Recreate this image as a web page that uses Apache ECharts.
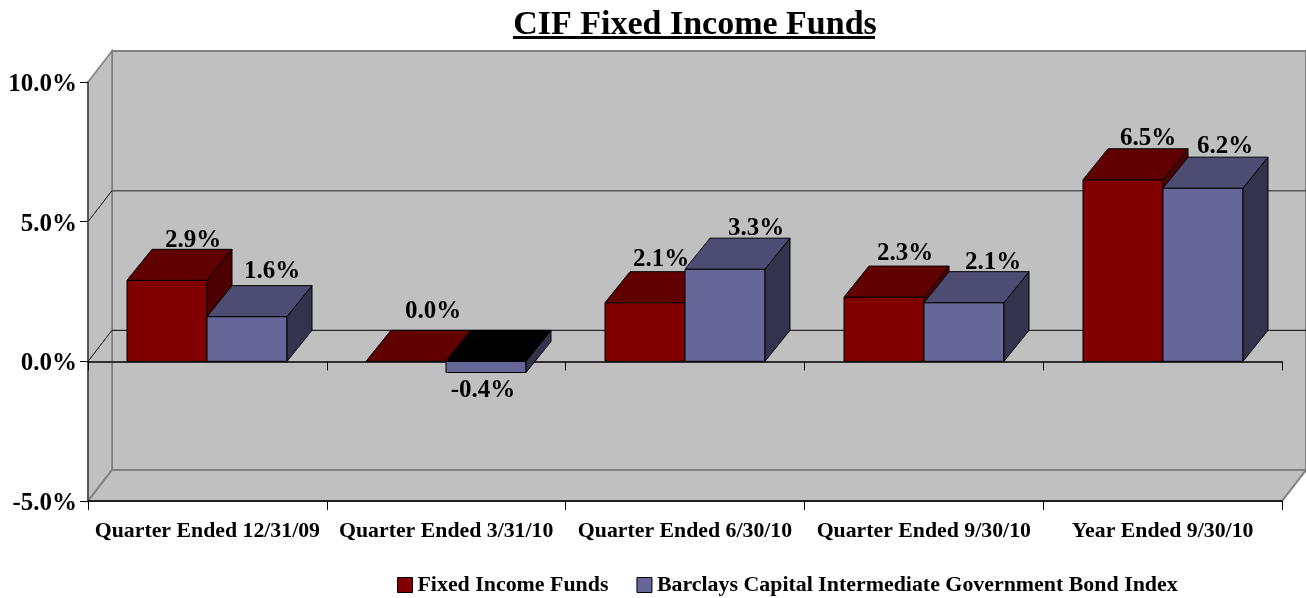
<!DOCTYPE html>
<html>
<head>
<meta charset="utf-8">
<title>CIF Fixed Income Funds</title>
<script src="https://cdn.jsdelivr.net/npm/echarts@6/dist/echarts.min.js"></script>
<style>
  html, body { margin: 0; padding: 0; background: #fff; }
  #main { width: 1306px; height: 598px; }
</style>
</head>
<body>
<div id="main"></div>
<script>
const categories = ['Quarter Ended 12/31/09', 'Quarter Ended 3/31/10', 'Quarter Ended 6/30/10', 'Quarter Ended 9/30/10', 'Year Ended 9/30/10'];
const fixedIncome = [2.9, 0.0, 2.1, 2.3, 6.5];
const barclays = [1.6, -0.4, 3.3, 2.1, 6.2];
const yTicks = [-5, 0, 5, 10];
const fontFamily = '"Liberation Serif", "Times New Roman", serif';

// 3d look of the chart
const wallDepth = { x: 24, y: 31 };
const barDepth = { x: 25, y: 31 };
const barWidth = 80;

// label shift from the default spot, each label sits a bit different in the original
const nudgeFixed = [[1, 4], [2, -6], [-9, 1], [-4, 0], [0, 3]];
const nudgeBarclays = [[0, -1], [-3, 2], [6, 3], [4, 4], [-3, 2]];

function line(x1, y1, x2, y2, stroke, lineWidth) {
  return { type: 'line', shape: { x1, y1, x2, y2 }, style: { stroke, lineWidth } };
}

function poly(points, fill) {
  return { type: 'polygon', shape: { points }, style: { fill, stroke: '#000', lineWidth: 1 } };
}

function renderWalls(params, api) {
  const c = params.coordSys;
  const d = wallDepth;
  const l = c.x, r = c.x + c.width, t = c.y, b = c.y + c.height;
  const grey = '#c0c0c0', edge = '#808080';
  const kids = [
    { type: 'rect', shape: { x: l + d.x, y: t - d.y, width: c.width, height: c.height }, style: { fill: grey, stroke: edge, lineWidth: 2 } },
    { type: 'polygon', shape: { points: [[l, t], [l + d.x, t - d.y], [l + d.x, b - d.y], [l, b]] }, style: { fill: grey, stroke: edge, lineWidth: 1.5 } },
    { type: 'polygon', shape: { points: [[l, b], [l + d.x, b - d.y], [r + d.x, b - d.y], [r, b]] }, style: { fill: grey, stroke: edge, lineWidth: 2 } }
  ];
  yTicks.forEach(function (v) {
    if (v !== 0 && v !== 5) return;
    const y = api.coord([0, v])[1];
    kids.push(line(l, y, l + d.x, y - d.y, '#000', 1));
    kids.push(line(l + d.x, y - d.y, r + d.x, y - d.y, v === 0 ? '#000' : '#555', v === 0 ? 1 : 1.5));
  });
  return { type: 'group', children: kids };
}

function makeBarRender(slot, colors, nudges) {
  return function (params, api) {
    const idx = api.value(0);
    const v = api.value(1);
    const cx = api.coord([idx, 0])[0];
    const x0 = Math.round(cx - barWidth + slot * barWidth);
    const x1 = x0 + barWidth;
    const y0 = api.coord([idx, 0])[1];
    const yv = api.coord([idx, v])[1];
    const top = Math.min(y0, yv), bottom = Math.max(y0, yv);
    const dx = barDepth.x, dy = barDepth.y;
    const kids = [];
    if (bottom > top) {
      kids.push(poly([[x0, top], [x1, top], [x1, bottom], [x0, bottom]], colors.front));
      kids.push(poly([[x1, top], [x1 + dx, top - dy], [x1 + dx, bottom - dy], [x1, bottom]], colors.side));
    }
    kids.push(poly([[x0, top], [x0 + dx, top - dy], [x1 + dx, top - dy], [x1, top]], v < 0 ? '#000' : colors.top));
    const n = nudges[params.dataIndex];
    const lx = v < 0 ? (x0 + x1) / 2 : (x0 + x1) / 2 + dx;
    const ly = v < 0 ? bottom + 16 : top - dy - 13;
    kids.push({
      type: 'text',
      z2: 10,
      style: {
        x: lx + n[0], y: ly + n[1], text: v.toFixed(1) + '%',
        fill: '#000', font: 'bold 25px ' + fontFamily, align: 'center', verticalAlign: 'middle'
      }
    });
    return { type: 'group', children: kids };
  };
}

const redBar = { front: '#800000', top: '#600000', side: '#4d0000' };
const blueBar = { front: '#666699', top: '#4d4d73', side: '#33334d' };

const chart = echarts.init(document.getElementById('main'));
chart.setOption({
  animation: false,
  title: {
    text: 'CIF Fixed Income Funds',
    left: 690,
    top: 3,
    textAlign: 'center',
    textStyle: { fontFamily, fontWeight: 'bold', fontSize: 34, color: '#000' }
  },
  graphic: [
    { type: 'rect', shape: { x: 513, y: 36, width: 362, height: 3 }, style: { fill: '#000' } }
  ],
  legend: {
    left: 392,
    top: 569,
    icon: 'rect',
    itemWidth: 15,
    itemHeight: 15,
    itemGap: 28,
    selectedMode: false,
    textStyle: { fontFamily, fontWeight: 'bold', fontSize: 21.9, color: '#000' },
    data: [
      { name: 'Fixed Income Funds', itemStyle: { color: '#800000', borderColor: '#000', borderWidth: 1 } },
      { name: 'Barclays Capital Intermediate Government Bond Index', itemStyle: { color: '#666699', borderColor: '#000', borderWidth: 1 } }
    ]
  },
  grid: { left: 88, right: 24, top: 82, bottom: 97 },
  xAxis: [
    {
      type: 'category',
      data: categories,
      position: 'bottom',
      z: 1,
      axisLine: { onZero: false, lineStyle: { color: '#000', width: 1.5 } },
      axisTick: { show: true, length: 9, alignWithLabel: false, lineStyle: { color: '#000' } },
      axisLabel: { interval: 0, margin: 19, hideOverlap: false, color: '#000', fontFamily, fontWeight: 'bold', fontSize: 21.8 }
    },
    {
      type: 'category',
      data: categories,
      position: 'bottom',
      z: 1,
      axisLine: { onZero: true, lineStyle: { color: '#000', width: 1.5 } },
      axisTick: { show: true, length: 9, alignWithLabel: false, lineStyle: { color: '#000' } },
      axisLabel: { show: false }
    }
  ],
  yAxis: {
    type: 'value',
    min: -5,
    max: 10,
    interval: 5,
    z: 1,
    splitLine: { show: false },
    axisLine: { show: true, lineStyle: { color: '#404040', width: 1.5 } },
    axisTick: { show: true, length: 8, lineStyle: { color: '#000' } },
    axisLabel: {
      margin: 11,
      // top aligned with a short line box, puts the text a little under the tick like the original
      verticalAlign: 'top',
      lineHeight: 5,
      color: '#000',
      fontFamily,
      fontWeight: 'bold',
      fontSize: 25,
      formatter: function (v) { return v.toFixed(1) + '%'; }
    }
  },
  series: [
    {
      type: 'custom',
      name: 'walls',
      z: 0,
      silent: true,
      clip: false,
      data: [[0, 0]],
      renderItem: renderWalls
    },
    {
      type: 'custom',
      name: 'Fixed Income Funds',
      z: 2,
      clip: false,
      itemStyle: { color: '#800000' },
      encode: { x: 0, y: 1 },
      data: fixedIncome.map(function (v, i) { return [i, v]; }),
      renderItem: makeBarRender(0, redBar, nudgeFixed)
    },
    {
      type: 'custom',
      name: 'Barclays Capital Intermediate Government Bond Index',
      z: 3,
      clip: false,
      itemStyle: { color: '#666699' },
      encode: { x: 0, y: 1 },
      data: barclays.map(function (v, i) { return [i, v]; }),
      renderItem: makeBarRender(1, blueBar, nudgeBarclays)
    }
  ]
});
</script>
</body>
</html>
